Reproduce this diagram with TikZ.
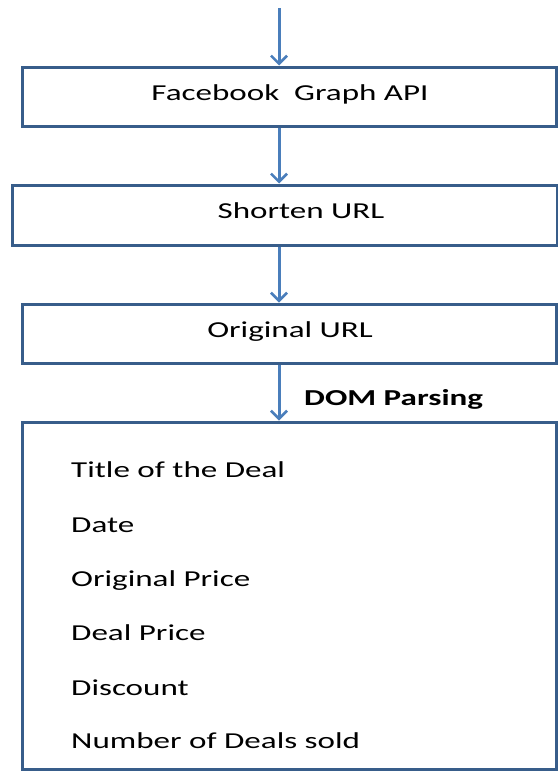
\documentclass[tikz,border=0pt]{standalone}
\usepackage{fontspec}
\setmainfont{Carlito}[FakeStretch=1.45]
\usetikzlibrary{arrows.meta}
\definecolor{boxc}{HTML}{385D8A}
\definecolor{arrc}{HTML}{4A7EBB}
\begin{document}
\begin{tikzpicture}[x=1pt,y=-1pt,
  box/.style={draw=boxc, line width=3pt, inner sep=0pt},
  conn/.style={draw=arrc, line width=3pt, -{Straight Barb[length=8pt,width=16pt,line width=2.6pt]}},
  lbl/.style={font=\fontsize{22.8}{26}\selectfont, inner sep=0pt, anchor=base},
  item/.style={lbl, anchor=base west},
  dom/.style={lbl, anchor=base west, font=\fontsize{22.8}{26}\selectfont\bfseries}]
\useasboundingbox (0,0) rectangle (557,771);
\node[box, minimum width=534pt, minimum height=59pt] (b1) at (289,96.5) {};
\node[box, minimum width=545pt, minimum height=60pt] (b2) at (284.5,215) {};
\node[box, minimum width=534pt, minimum height=59pt] (b3) at (289,333.5) {};
\node[box, minimum width=534pt, minimum height=347pt] (b4) at (289,595.5) {};
\coordinate (top) at (279,8);
\draw[conn] (top) -- (top |- b1.north);
\draw[conn] (b1.south -| top) -- (b2.north -| top);
\draw[conn] (b2.south -| top) -- (b3.north -| top);
\draw[conn] (b3.south -| top) -- (b4.north -| top);
\node[lbl] (t1) at (290,100) {Facebook\ \ Graph API};
\node[lbl] (t2) at (301,218) {Shorten URL};
\node[lbl] (t3) at (290,337) {Original URL};
\node[dom] (d) at (304,405) {DOM Parsing};
\node[item] (i1) at (71,477) {Title of the Deal};
\node[item] (i2) at (71,532) {Date};
\node[item] (i3) at (71,586) {Original Price};
\node[item] (i4) at (71,640) {Deal Price};
\node[item] (i5) at (71,695) {Discount};
\node[item] (i6) at (71,748) {Number of Deals sold};
\end{tikzpicture}
\end{document}
